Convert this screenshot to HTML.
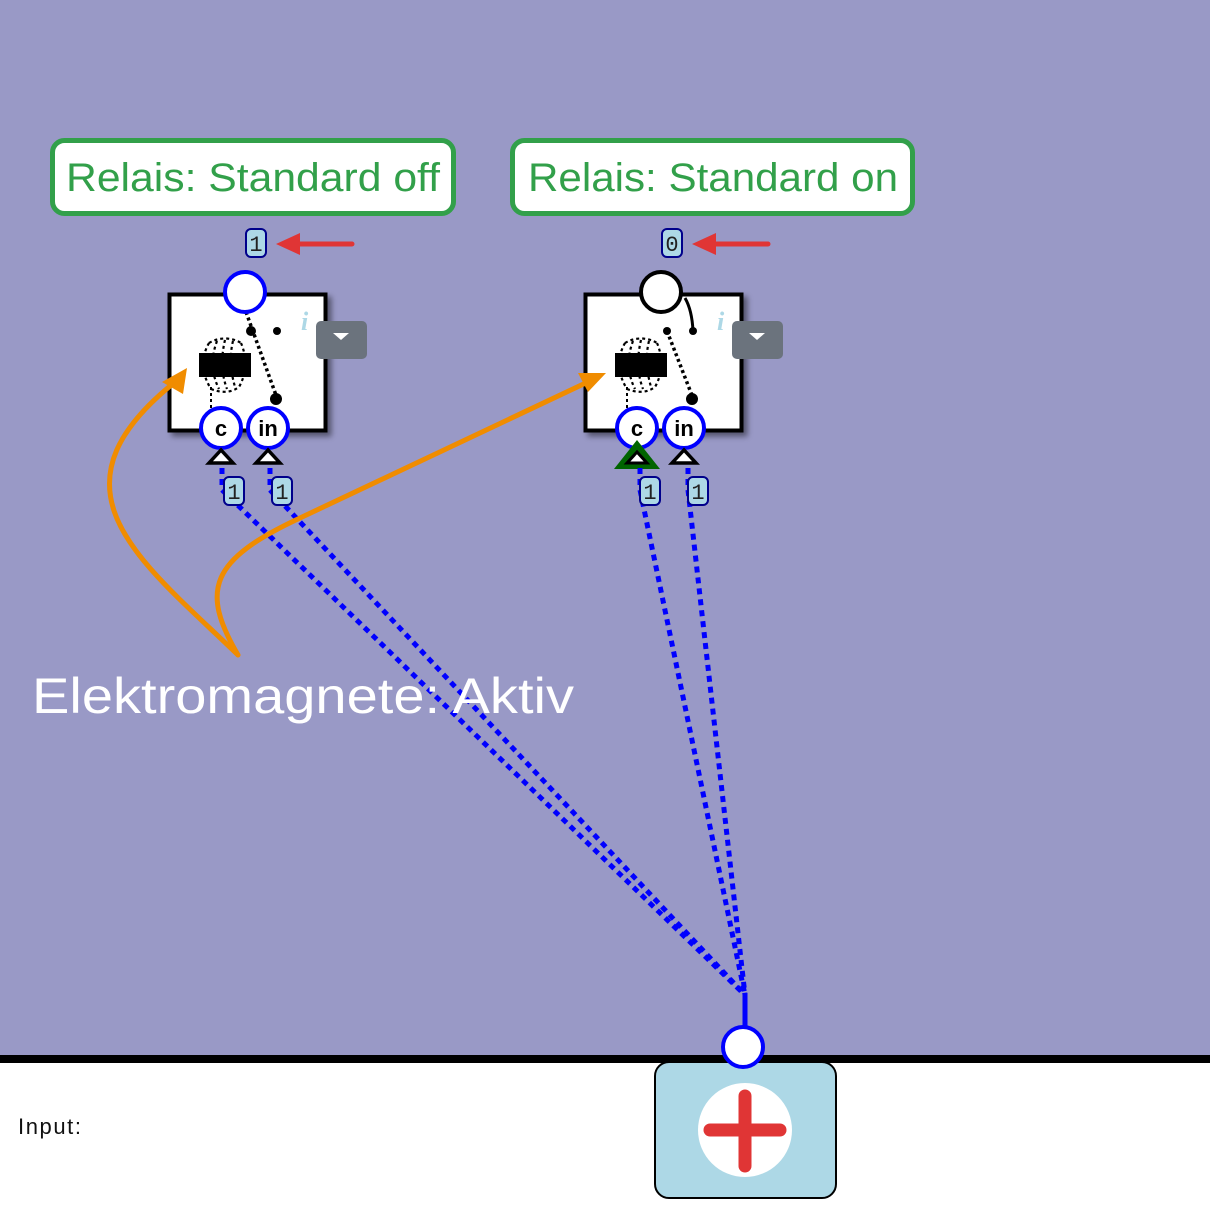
<!DOCTYPE html>
<html><head><meta charset="utf-8"><style>
html,body{margin:0;padding:0;width:1210px;height:1212px;overflow:hidden;background:#fff}
svg{display:block}
</style></head><body>
<svg width="1210" height="1212" viewBox="0 0 1210 1212" xmlns="http://www.w3.org/2000/svg" font-family="Liberation Sans, sans-serif">
<defs>
<filter id="sh" x="-10%" y="-10%" width="130%" height="130%"><feDropShadow dx="4" dy="4" stdDeviation="3" flood-color="#000" flood-opacity="0.45"/></filter>
<g id="coil">
<path d="M-16,-22 C-24,-8 -24,8 -14,24 M-8,-24 C-14,-8 -14,8 -6,24 M0,-25 C-4,-8 -4,8 2,24 M8,-24 C4,-8 6,8 10,22 M16,-22 C22,-8 22,8 14,22 M-16,-22 C-6,-28 6,-28 16,-22 M-14,24 C-4,28 6,28 14,22" fill="none" stroke="#000" stroke-width="2.2" stroke-dasharray="3,3"/>
<line x1="-14" y1="22" x2="-14" y2="44" stroke="#000" stroke-width="2" stroke-dasharray="3,3"/>
<rect x="-26" y="-12" width="52" height="24" fill="#000"/>
</g>
</defs>
<rect x="0" y="0" width="1210" height="1058" fill="#9999c6"/>
<rect x="0" y="1055" width="1210" height="8" fill="#000"/>
<text x="18" y="1134" font-size="22" fill="#111" textLength="63">Input:</text>

<!-- green labels -->
<rect x="52.5" y="140.5" width="401" height="73" rx="12" fill="#fff" stroke="#32a04a" stroke-width="5"/>
<text x="66" y="191" font-size="40" fill="#32a04a" textLength="374" lengthAdjust="spacingAndGlyphs">Relais: Standard off</text>
<rect x="512.5" y="140.5" width="400" height="73" rx="12" fill="#fff" stroke="#32a04a" stroke-width="5"/>
<text x="528" y="191" font-size="40" fill="#32a04a" textLength="370" lengthAdjust="spacingAndGlyphs">Relais: Standard on</text>

<!-- value labels + red arrows -->
<g font-family="Liberation Mono, monospace" font-size="22" fill="#222" text-anchor="middle">
<rect x="246" y="229" width="20" height="28" rx="5" fill="#add8e6" stroke="#00008b" stroke-width="2"/><text x="256" y="251">1</text>
<rect x="662" y="229" width="20" height="28" rx="5" fill="#add8e6" stroke="#00008b" stroke-width="2"/><text x="672" y="251">0</text>
</g>
<g fill="#e03535" stroke="#e03535">
<line x1="295" y1="244" x2="352" y2="244" stroke-width="5" stroke-linecap="round"/><polygon points="276,244 300,233 300,255" stroke="none"/>
<line x1="711" y1="244" x2="768" y2="244" stroke-width="5" stroke-linecap="round"/><polygon points="692,244 716,233 716,255" stroke="none"/>
</g>

<!-- relay 1 -->
<rect x="169.5" y="294.5" width="156" height="136" fill="#fff" stroke="#000" stroke-width="4" filter="url(#sh)"/>
<use href="#coil" x="225" y="365"/>
<line x1="246" y1="312" x2="277" y2="398" stroke="#000" stroke-width="3.5" stroke-dasharray="3,3"/>
<circle cx="251" cy="331" r="5" fill="#000"/><circle cx="277" cy="331" r="4" fill="#000"/><circle cx="276" cy="399" r="6" fill="#000"/>
<text x="301" y="330" font-size="26" font-style="italic" font-weight="bold" fill="#add8e6" font-family="Liberation Serif, serif">i</text>
<rect x="316" y="321" width="51" height="38" rx="5" fill="#6b737d"/>
<polygon points="333,333 349,333 341,340" fill="#fff"/>
<circle cx="245" cy="292" r="20" fill="#fff" stroke="#0000ff" stroke-width="4"/>
<circle cx="221" cy="428" r="20" fill="#fff" stroke="#0000ff" stroke-width="4"/>
<circle cx="268" cy="428" r="20" fill="#fff" stroke="#0000ff" stroke-width="4"/>
<text x="221" y="436" font-size="22" font-weight="bold" text-anchor="middle">c</text>
<text x="268" y="436" font-size="22" font-weight="bold" text-anchor="middle">in</text>
<polygon points="221,450 209,463 233,463" fill="#fff" stroke="#000" stroke-width="3.5"/>
<polygon points="268,450 256,463 280,463" fill="#fff" stroke="#000" stroke-width="3.5"/>

<!-- relay 2 -->
<rect x="585.5" y="294.5" width="156" height="136" fill="#fff" stroke="#000" stroke-width="4" filter="url(#sh)"/>
<use href="#coil" x="641" y="365"/>
<line x1="667" y1="331" x2="693" y2="398" stroke="#000" stroke-width="3.5" stroke-dasharray="3,3"/>
<circle cx="667" cy="331" r="4" fill="#000"/><circle cx="693" cy="331" r="4" fill="#000"/><circle cx="692" cy="399" r="6" fill="#000"/>
<path d="M685,298 Q692,310 693,331" fill="none" stroke="#000" stroke-width="3"/>
<text x="717" y="330" font-size="26" font-style="italic" font-weight="bold" fill="#add8e6" font-family="Liberation Serif, serif">i</text>
<rect x="732" y="321" width="51" height="38" rx="5" fill="#6b737d"/>
<polygon points="749,333 765,333 757,340" fill="#fff"/>
<circle cx="661" cy="292" r="20" fill="#fff" stroke="#000" stroke-width="4"/>
<circle cx="637" cy="428" r="20" fill="#fff" stroke="#0000ff" stroke-width="4"/>
<circle cx="684" cy="428" r="20" fill="#fff" stroke="#0000ff" stroke-width="4"/>
<text x="637" y="436" font-size="22" font-weight="bold" text-anchor="middle">c</text>
<text x="684" y="436" font-size="22" font-weight="bold" text-anchor="middle">in</text>
<polygon points="637,440 614,469 660,469" fill="#006400"/>
<polygon points="637,452 627,463 647,463" fill="#fff" stroke="#000" stroke-width="3"/>
<polygon points="684,450 672,463 696,463" fill="#fff" stroke="#000" stroke-width="3.5"/>

<!-- dashed wires -->
<g stroke="#0000ff" stroke-width="5" stroke-dasharray="6,5" fill="none">
<path d="M222,468 L222,490 L745,995"/>
<path d="M270,468 L270,490 L745,995"/>
<path d="M640,468 L640,490 L745,995"/>
<path d="M688,468 L688,490 L745,995"/>
</g>
<line x1="745" y1="993" x2="745" y2="1030" stroke="#0000ff" stroke-width="5"/>
<g font-family="Liberation Mono, monospace" font-size="22" fill="#222" text-anchor="middle">
<rect x="224" y="477" width="20" height="28" rx="5" fill="#add8e6" stroke="#00008b" stroke-width="2"/><text x="234" y="499">1</text>
<rect x="272" y="477" width="20" height="28" rx="5" fill="#add8e6" stroke="#00008b" stroke-width="2"/><text x="282" y="499">1</text>
<rect x="640" y="477" width="20" height="28" rx="5" fill="#add8e6" stroke="#00008b" stroke-width="2"/><text x="650" y="499">1</text>
<rect x="688" y="477" width="20" height="28" rx="5" fill="#add8e6" stroke="#00008b" stroke-width="2"/><text x="698" y="499">1</text>
</g>

<!-- orange arrows -->
<g stroke="#f08c00" stroke-width="5" fill="none" stroke-linecap="round">
<path d="M238,655 C140,560 40,490 175,382"/>
<path d="M238,655 C200,590 210,560 300,518 L592,380"/>
</g>
<polygon points="187,368 162,382 183,394" fill="#f08c00"/>
<polygon points="606,373 578,373 588,392" fill="#f08c00"/>
<text x="32" y="713" font-size="50" fill="#fff" textLength="542" lengthAdjust="spacingAndGlyphs">Elektromagnete: Aktiv</text>

<!-- input button -->
<rect x="655" y="1062" width="181" height="136" rx="14" fill="#add8e6" stroke="#000" stroke-width="2"/>
<circle cx="745" cy="1130" r="47" fill="#fff"/>
<g stroke="#e03535" stroke-width="13" stroke-linecap="round"><line x1="745" y1="1096" x2="745" y2="1166"/><line x1="710" y1="1130" x2="780" y2="1130"/></g>
<circle cx="743" cy="1047" r="20" fill="#fff" stroke="#0000ff" stroke-width="4"/>
</svg>
</body></html>
